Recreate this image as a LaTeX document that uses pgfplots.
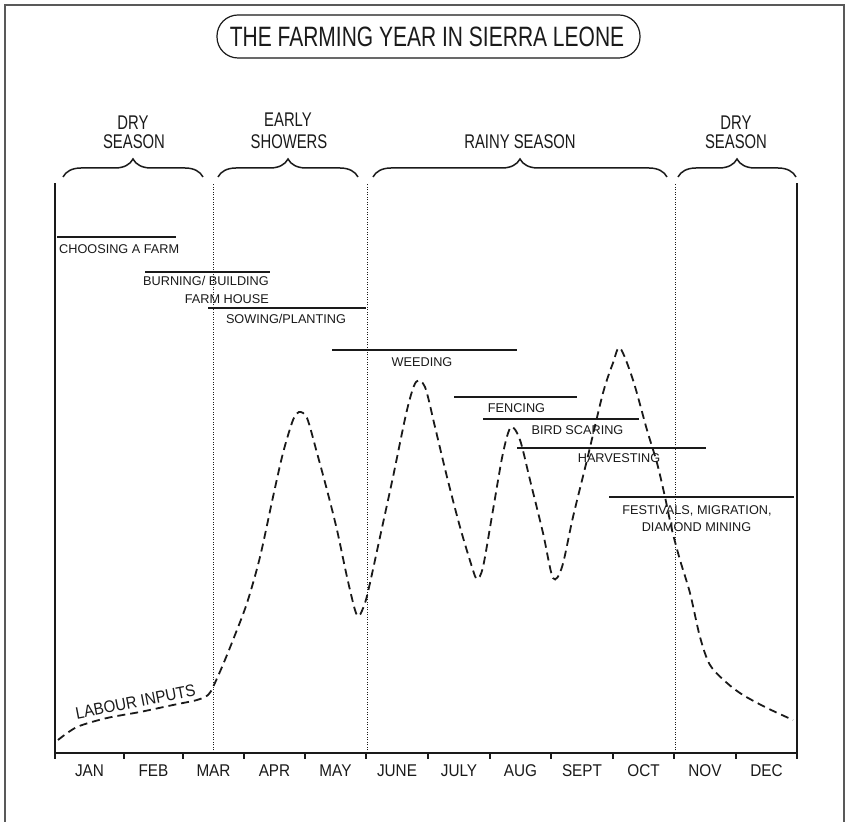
\documentclass[border=0pt]{standalone}
\usepackage{pgfplots}
\pgfplotsset{compat=1.18}
\usepackage{fontspec}
\setmainfont{Liberation Sans}
\newfontfamily\condfont{Liberation Sans}[FakeStretch=0.75]
\newfontfamily\monthfont{Liberation Sans}[FakeStretch=0.9]
\usetikzlibrary{decorations.pathreplacing}
\definecolor{ink}{HTML}{1A1A1A}
\tikzset{
  act/.style={inner sep=0pt, font=\fontsize{12.7}{12.7}\selectfont, text=ink},
  seas/.style={inner sep=0pt, font=\condfont\fontsize{19.8}{19.8}\selectfont, text=ink},
  brc/.style={ink, line width=1.5pt, decorate, decoration={brace, amplitude=18pt}},
}
\begin{document}
\begin{tikzpicture}[x=1pt,y=1pt]
\useasboundingbox (0,0) rectangle (849,822);
\fill[white] (0,0) rectangle (849,822);
\draw[line width=2.2pt, black!65] (5,-30) -- (5,817) -- (844,817) -- (844,-30);
% title
\draw[line width=1.2pt, ink, rounded corners=21pt] (217,764) rectangle (640,807);
\node[inner sep=0pt, font=\condfont\fontsize{28}{28}\selectfont, text=ink] at (427,785) {THE FARMING YEAR IN SIERRA LEONE};
% seasons
\node[seas] at (133,699) {DRY};
\node[seas] at (134,680) {SEASON};
\node[seas] at (288,702) {EARLY};
\node[seas] at (289,680) {SHOWERS};
\node[seas] at (520,680) {RAINY SEASON};
\node[seas] at (736,699) {DRY};
\node[seas] at (736,680) {SEASON};
\draw[brc] (63,645) -- (203,645);
\draw[brc] (218,645) -- (358,645);
\draw[brc] (373,645) -- (667,645);
\draw[brc] (678,645) -- (796,645);

\begin{axis}[
  at={(55pt,69pt)}, anchor=south west,
  scale only axis, width=742pt, height=570pt,
  xmin=55, xmax=797, ymin=0, ymax=570,
  axis x line=bottom, axis y line=box,
  axis line style={-, line width=1.5pt, ink},
  ytick=\empty,
  xtick={55,124,183,244,305,366,428,490,551,613,674,736,797},
  xticklabels={},
  tick align=outside, major tick length=6pt,
  xtick style={line width=1.2pt, ink},
  extra x ticks={89.5,153.5,213.5,274.5,335.5,397,459,520.5,582,643.5,705,766.5},
  extra x tick labels={JAN,FEB,MAR,APR,MAY,JUNE,JULY,AUG,SEPT,OCT,NOV,DEC},
  extra x tick style={major tick length=0pt},
  xticklabel style={font=\monthfont\fontsize{17}{17}\selectfont, text=ink, anchor=base, yshift=-24pt, inner sep=0pt},
  clip=false,
]
% season boundaries
\addplot[ink, line width=0.9pt, dash pattern=on 1pt off 1.5pt] coordinates {(213,0) (213,570)};
\addplot[ink, line width=0.9pt, dash pattern=on 1pt off 1.5pt] coordinates {(367,0) (367,570)};
\addplot[ink, line width=0.9pt, dash pattern=on 1pt off 1.5pt] coordinates {(675,0) (675,570)};
% activity spans
\addplot[ink, line width=1.1pt] coordinates {(57,516) (176,516)};
\addplot[ink, line width=1.1pt] coordinates {(145,481) (270,481)};
\addplot[ink, line width=1.1pt] coordinates {(208,445) (366,445)};
\addplot[ink, line width=1.1pt] coordinates {(332,403) (517,403)};
\addplot[ink, line width=1.1pt] coordinates {(454,356) (577,356)};
\addplot[ink, line width=1.1pt] coordinates {(483,334) (639,334)};
\addplot[ink, line width=1.1pt] coordinates {(517,305) (706,305)};
\addplot[ink, line width=1.1pt] coordinates {(609,256) (794,256)};
% labour inputs curve
\addplot[ink, line width=1.8pt, dash pattern=on 8pt off 5pt, smooth, tension=0.5] coordinates {
(58,13) (77,26) (107,35) (140,41) (173,48) (197,53) (208,58) (213,66)
(222,86) (233,113) (247,150) (260,196) (273,256) (283,300) (293,333) (299,341)
(307,335) (317,300) (327,263) (337,223) (347,176) (355,143) (359,137)
(365,150) (370,170) (380,216) (393,276) (407,343) (416,371) (425,366)
(435,326) (447,276) (460,226) (472,186) (477,174) (483,186) (493,243)
(503,300) (511,326) (520,313) (530,273) (543,220) (553,175) (562,186)
(573,236) (587,293) (603,360) (613,390) (620,405) (633,373) (647,323)
(657,290) (665,256) (672,223) (680,193) (690,160) (700,116) (710,88)
(727,70) (743,58) (767,45) (793,33)};
% activity labels
\node[act, anchor=base west] at (axis cs:59,499.5) {CHOOSING A FARM};
\node[act, anchor=base east] at (axis cs:269,467.5) {BURNING/ BUILDING};
\node[act, anchor=base east] at (axis cs:269,449.5) {FARM HOUSE};
\node[act, anchor=base] at (axis cs:286,429.5) {SOWING/PLANTING};
\node[act, anchor=base] at (axis cs:422,386.5) {WEEDING};
\node[act, anchor=base] at (axis cs:516.5,340.5) {FENCING};
\node[act, anchor=base] at (axis cs:577.5,318.5) {BIRD SCARING};
\node[act, anchor=base] at (axis cs:619,290.5) {HARVESTING};
\node[act, anchor=base] at (axis cs:697,238.5) {FESTIVALS, MIGRATION,};
\node[act, anchor=base] at (axis cs:696.5,221.5) {DIAMOND MINING};
\node[inner sep=0pt, rotate=11, font=\monthfont\fontsize{16.8}{16.8}\selectfont, text=ink] at (axis cs:135.5,51) {LABOUR INPUTS};
\end{axis}
\end{tikzpicture}
\end{document}
